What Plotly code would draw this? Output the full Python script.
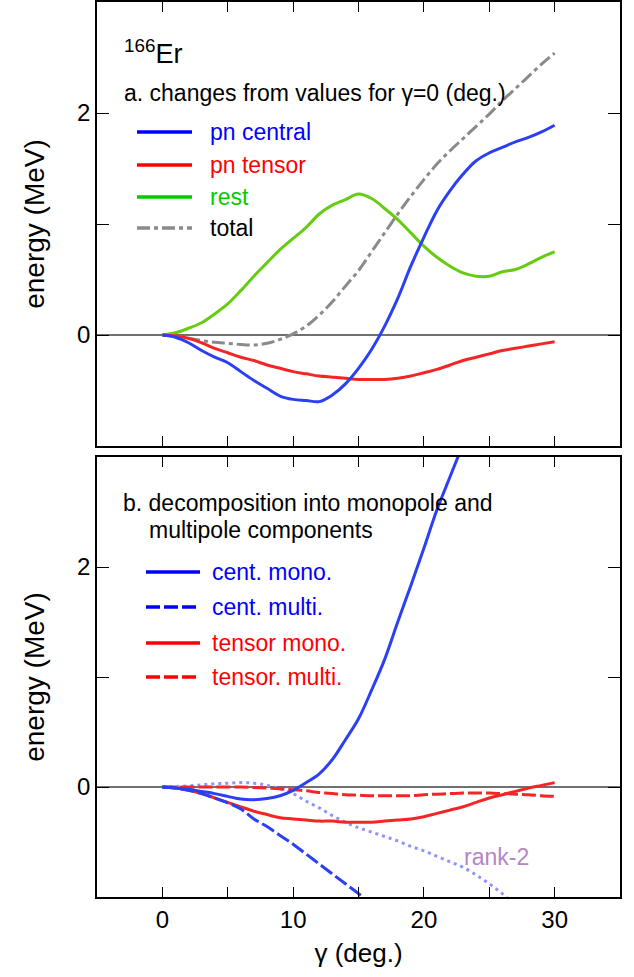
import plotly.graph_objects as go
from plotly.subplots import make_subplots

# ---------------- data ----------------
gamma = list(range(0, 31))

pn_central = [0, -0.02, -0.07, -0.14, -0.20, -0.25, -0.33, -0.41, -0.48, -0.55, -0.58,
              -0.59, -0.60, -0.54, -0.44, -0.30, -0.13, 0.08, 0.33, 0.62, 0.88,
              1.12, 1.30, 1.45, 1.57, 1.64, 1.69, 1.74, 1.78, 1.83, 1.89]
pn_tensor = [0, -0.01, -0.03, -0.07, -0.12, -0.16, -0.20, -0.23, -0.27, -0.30, -0.33,
             -0.35, -0.37, -0.38, -0.39, -0.40, -0.40, -0.40, -0.39, -0.37, -0.34,
             -0.31, -0.27, -0.23, -0.20, -0.17, -0.14, -0.12, -0.10, -0.08, -0.06]
rest = [0, 0.02, 0.06, 0.11, 0.19, 0.28, 0.40, 0.53, 0.65, 0.77, 0.87,
        0.97, 1.09, 1.17, 1.22, 1.27, 1.23, 1.14, 1.04, 0.92, 0.80,
        0.70, 0.62, 0.56, 0.53, 0.53, 0.57, 0.59, 0.64, 0.70, 0.75]
total = [0, -0.01, -0.03, -0.05, -0.065, -0.075, -0.085, -0.09, -0.075, -0.04, 0.01,
         0.08, 0.18, 0.30, 0.44, 0.58, 0.75, 0.92, 1.09, 1.25, 1.40,
         1.54, 1.66, 1.77, 1.88, 1.99, 2.11, 2.22, 2.33, 2.44, 2.54]

gamma_cm = list(range(0, 25))
cent_mono = [0, -0.01, -0.02, -0.04, -0.06, -0.085, -0.11, -0.115, -0.105, -0.08, -0.03,
             0.04, 0.12, 0.25, 0.43, 0.62, 0.88, 1.16, 1.50, 1.83, 2.17,
             2.52, 2.82, 3.12, 3.45]
gamma_cmu = list(range(0, 18))
cent_multi = [0, -0.01, -0.03, -0.06, -0.10, -0.145, -0.20, -0.29, -0.36, -0.44, -0.52,
              -0.61, -0.70, -0.79, -0.88, -0.97, -1.07, -1.17]
tensor_mono = [0, -0.01, -0.03, -0.06, -0.10, -0.14, -0.18, -0.22, -0.25, -0.28, -0.29,
               -0.30, -0.31, -0.31, -0.32, -0.32, -0.32, -0.31, -0.30, -0.29, -0.27,
               -0.24, -0.21, -0.18, -0.14, -0.10, -0.07, -0.04, -0.01, 0.015, 0.04]
tensor_multi = [0, 0, 0, 0, 0, 0, 0, -0.005, -0.01, -0.015, -0.025,
                -0.035, -0.05, -0.06, -0.07, -0.075, -0.08, -0.08, -0.08, -0.08, -0.07,
                -0.065, -0.06, -0.055, -0.055, -0.055, -0.06, -0.065, -0.07, -0.08, -0.085]
gamma_r2 = list(range(0, 28))
rank2 = [0, 0.005, 0.01, 0.02, 0.03, 0.035, 0.04, 0.035, 0.015, -0.015, -0.06,
         -0.13, -0.19, -0.26, -0.32, -0.37, -0.41, -0.45, -0.49, -0.54, -0.58,
         -0.63, -0.68, -0.73, -0.80, -0.88, -0.97, -1.08]

x_major_step, x_minor_step = 10, 5
y_major_step, y_minor_step = 2, 1

# ---------------- style ----------------
W, H = 634, 977
ML, MR, MT, MB = 97, 14, 2, 80
PW, PH = W - ML - MR, H - MT - MB
FONT = "Liberation Sans, Arial, sans-serif"

BLUE = "#2b3ff5"
RED = "#f52525"
GREEN = "#66cc11"
GRAY = "#8a8a8a"
LBLUE = "#8f93ff"
TXT = 23


def px2x(px):
    return (px - ML) / PW


def py2y(py):
    return 1 - (py - MT) / PH


fig = make_subplots(rows=2, cols=1)

lw = 3
fig.add_trace(go.Scatter(x=gamma, y=rest, mode="lines", line=dict(color=GREEN, width=lw), line_shape="spline"), 1, 1)
fig.add_trace(go.Scatter(x=gamma, y=total, mode="lines", line=dict(color=GRAY, width=lw, dash="13px,4px,4px,4px"), line_shape="spline"), 1, 1)
fig.add_trace(go.Scatter(x=gamma, y=pn_tensor, mode="lines", line=dict(color=RED, width=lw), line_shape="spline"), 1, 1)
fig.add_trace(go.Scatter(x=gamma, y=pn_central, mode="lines", line=dict(color=BLUE, width=lw), line_shape="spline"), 1, 1)

fig.add_trace(go.Scatter(x=gamma_r2, y=rank2, mode="lines", line=dict(color=LBLUE, width=lw, dash="3px,4px"), line_shape="spline"), 2, 1)
fig.add_trace(go.Scatter(x=gamma, y=tensor_multi, mode="lines", line=dict(color=RED, width=lw, dash="14px,4px"), line_shape="spline"), 2, 1)
fig.add_trace(go.Scatter(x=gamma, y=tensor_mono, mode="lines", line=dict(color=RED, width=lw), line_shape="spline"), 2, 1)
fig.add_trace(go.Scatter(x=gamma_cmu, y=cent_multi, mode="lines", line=dict(color=BLUE, width=lw, dash="14px,4px"), line_shape="spline"), 2, 1)
fig.add_trace(go.Scatter(x=gamma_cm, y=cent_mono, mode="lines", line=dict(color=BLUE, width=lw), line_shape="spline"), 2, 1)

top_dom = [py2y(446), 1.0]
bot_dom = [0.0, py2y(457)]

xcommon = dict(range=[-5, 35], tick0=0, dtick=x_major_step, ticks="inside", ticklen=10, tickwidth=1.3,
               tickcolor="black", showline=True, linecolor="black", linewidth=1.8, mirror="ticks",
               minor=dict(tick0=0, dtick=x_minor_step, ticks="inside", ticklen=10, tickwidth=1.3, tickcolor="black"),
               showgrid=False, zeroline=False, automargin=False,
               tickfont=dict(family=FONT, size=24, color="black"))
ycommon = dict(range=[-1, 3], tick0=0, dtick=y_major_step, ticks="inside", ticklen=12,
               tickwidth=1.3, tickcolor="black", showline=True, linecolor="black", linewidth=1.8,
               minor=dict(tick0=0, dtick=y_minor_step, ticks="inside", ticklen=12, tickwidth=1.3, tickcolor="black"),
               mirror="ticks", showgrid=False, zeroline=True, zerolinecolor="#707070", zerolinewidth=1.5,
               automargin=False,
               tickfont=dict(family=FONT, size=24, color="black"),
               title=dict(text="energy (MeV)", font=dict(family=FONT, size=28, color="black"), standoff=24))

fig.update_layout(
    xaxis=dict(xcommon, domain=[0, 1], anchor="y", showticklabels=False),
    yaxis=dict(ycommon, domain=top_dom, anchor="x"),
    xaxis2=dict(xcommon, domain=[0, 1], anchor="y2", showticklabels=True,
                title=dict(text="γ (deg.)", font=dict(family=FONT, size=26, color="black"), standoff=12)),
    yaxis2=dict(ycommon, domain=bot_dom, anchor="x2"),
)

annotations = []
shapes = []


def text(px, py, s, size, color="black"):
    annotations.append(dict(x=px2x(px), y=py2y(py), xref="paper", yref="paper", text=s,
                            showarrow=False, xanchor="left", yanchor="middle",
                            font=dict(family=FONT, size=size, color=color)))


def sample(x0, x1, py, color, dash):
    shapes.append(dict(type="line", xref="paper", yref="paper", x0=px2x(x0), x1=px2x(x1),
                       y0=py2y(py), y1=py2y(py), line=dict(color=color, width=3.5, dash=dash)))


text(122, 52, "<sup>166</sup>Er", 27)
text(122, 93, "a. changes from values for γ=0 (deg.)", TXT)
top_leg = [("pn central", "#0000ff", "solid", 132), ("pn tensor", "#ff0000", "solid", 165),
           ("rest", "#00cc00", "solid", 197), ("total", GRAY, "13px,4px,4px,4px", 228)]
for name, col, dash, py in top_leg:
    sample(137, 192, py, col, dash)
    text(208, py, name, TXT, "black" if name == "total" else col)

text(121, 503, "b. decomposition into monopole and", TXT)
text(147, 530, "multipole components", TXT)
bot_leg = [("cent. mono.", "#0000ff", "solid", 572), ("cent. multi.", "#0000ff", "14px,4px", 607),
           ("tensor mono.", "#ff0000", "solid", 643), ("tensor. multi.", "#ff0000", "14px,4px", 677)]
for name, col, dash, py in bot_leg:
    sample(146, 200, py, col, dash)
    text(210, py, name, TXT, col)

text(462, 857, "rank-2", TXT, "#b585c8")

fig.update_layout(
    width=W, height=H, margin=dict(l=ML, r=MR, t=MT, b=MB),
    paper_bgcolor="white", plot_bgcolor="white", showlegend=False,
    annotations=annotations, shapes=shapes,
    font=dict(family=FONT, color="black"),
)

fig.write_html("out.html", config={"displayModeBar": False},
               post_script="document.body.style.margin='0';")
